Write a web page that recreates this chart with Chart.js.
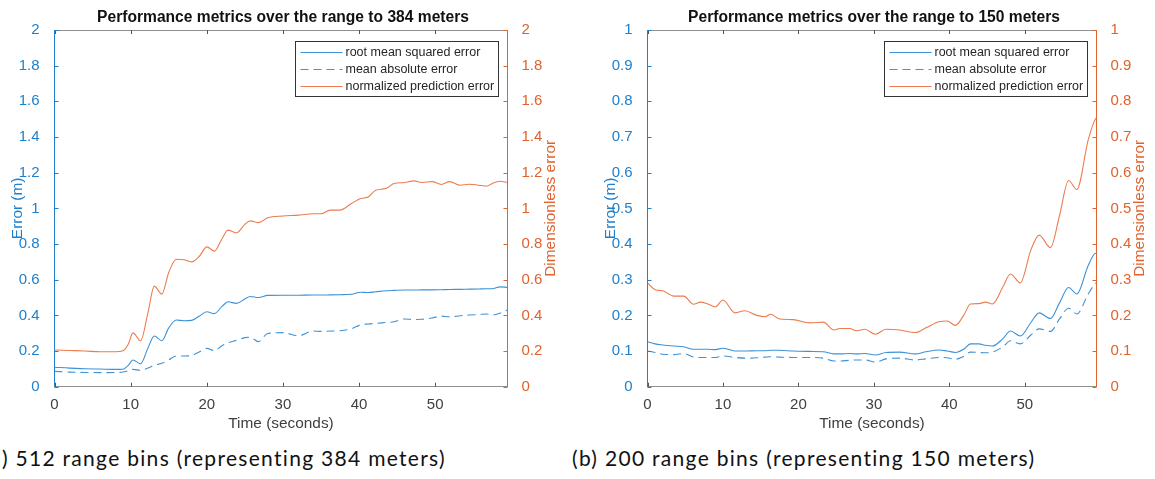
<!DOCTYPE html>
<html>
<head>
<meta charset="utf-8">
<script src="https://cdn.jsdelivr.net/npm/chart.js@4.4.1/dist/chart.umd.min.js"></script>
<style>
  html, body { margin: 0; padding: 0; background: #fff; }
  body { width: 1155px; height: 479px; position: relative; overflow: hidden; }
  canvas { position: absolute; top: 0; }
  #chartA { left: 0; }
  #chartB { left: 593px; }
  .caption {
    position: absolute;
    top: 445px;
    font-family: "Lato", "DejaVu Sans", sans-serif;
    font-size: 21px;
    letter-spacing: 1.3px;
    color: #111;
    white-space: nowrap;
  }
</style>
</head>
<body>
<canvas id="chartA" width="566" height="440"></canvas>
<canvas id="chartB" width="562" height="440"></canvas>
<div class="caption" style="left:-16px">(a) 512 range bins (representing 384 meters)</div>
<div class="caption" style="left:572px">(b) 200 range bins (representing 150 meters)</div>
<script>
// (a) 512 range bins, 384 m
const timeA = [0, 2, 4, 6, 8, 9, 9.7, 10.3, 11.3, 12.3, 13.1, 14.1, 15, 16, 17, 18, 19, 20, 21, 22,
  22.8, 23.9, 25, 25.7, 26.8, 28, 30, 32, 34, 35, 36.2, 37.5, 39, 40.2, 41.2, 42.2, 43.5, 44.6,
  46, 47.2, 48.3, 49.6, 50.8, 51.9, 53.3, 54.5, 55.7, 56.8, 57.5, 58.5, 59.5];
const rmseA = [0.109, 0.104, 0.101, 0.099, 0.097, 0.098, 0.12, 0.15, 0.128, 0.22, 0.284, 0.258, 0.33,
  0.374, 0.37, 0.372, 0.395, 0.42, 0.41, 0.45, 0.476, 0.467, 0.492, 0.506, 0.5, 0.512, 0.513, 0.513,
  0.514, 0.514, 0.515, 0.516, 0.518, 0.53, 0.528, 0.532, 0.538, 0.54, 0.542, 0.542, 0.543, 0.543,
  0.544, 0.545, 0.546, 0.547, 0.548, 0.549, 0.549, 0.56, 0.557];
const maeA = [0.086, 0.082, 0.08, 0.079, 0.08, 0.082, 0.09, 0.097, 0.092, 0.105, 0.12, 0.131, 0.15,
  0.172, 0.172, 0.175, 0.195, 0.215, 0.202, 0.23, 0.247, 0.26, 0.275, 0.277, 0.253, 0.298, 0.303,
  0.286, 0.312, 0.31, 0.312, 0.314, 0.325, 0.347, 0.352, 0.355, 0.36, 0.364, 0.38, 0.377, 0.378,
  0.385, 0.396, 0.392, 0.398, 0.402, 0.405, 0.408, 0.402, 0.412, 0.43];
const npeA = [0.206, 0.203, 0.2, 0.196, 0.196, 0.202, 0.24, 0.302, 0.258, 0.42, 0.564, 0.519, 0.64,
  0.715, 0.712, 0.7, 0.73, 0.784, 0.76, 0.83, 0.878, 0.863, 0.91, 0.93, 0.92, 0.947, 0.957, 0.962,
  0.97, 0.97, 0.99, 0.99, 1.027, 1.055, 1.064, 1.102, 1.111, 1.139, 1.145, 1.154, 1.145, 1.15,
  1.134, 1.15, 1.13, 1.135, 1.13, 1.125, 1.14, 1.152, 1.145];

// (b) 200 range bins, 150 m
const timeB = [0, 1, 2, 3.5, 4.8, 6.1, 7, 8, 9, 10, 11.6, 12.9, 14.5, 15.6, 16.3, 17.5, 19.3, 21.5,
  23.3, 24.7, 25.5, 26.8, 27.7, 28.8, 30.2, 31.6, 33.4, 35.5, 36.9, 38.6, 39.7, 40.8, 41.9, 42.8,
  43.9, 44.8, 45.7, 47.1, 48.1, 49.4, 50.8, 51.9, 53.4, 54.6, 55.8, 56.9, 58.4, 59.4, 59.8];
const rmseB = [0.126, 0.12, 0.117, 0.114, 0.112, 0.105, 0.105, 0.105, 0.104, 0.108, 0.1, 0.1, 0.101,
  0.101, 0.102, 0.102, 0.1, 0.099, 0.098, 0.092, 0.092, 0.093, 0.092, 0.093, 0.089, 0.096, 0.097,
  0.092, 0.098, 0.103, 0.1, 0.096, 0.105, 0.12, 0.12, 0.116, 0.114, 0.135, 0.156, 0.142, 0.18,
  0.207, 0.191, 0.235, 0.278, 0.26, 0.34, 0.374, 0.37];
const maeB = [0.1, 0.096, 0.091, 0.09, 0.093, 0.083, 0.082, 0.082, 0.082, 0.086, 0.082, 0.08, 0.081,
  0.083, 0.084, 0.083, 0.082, 0.082, 0.08, 0.072, 0.072, 0.074, 0.075, 0.075, 0.069, 0.078, 0.08,
  0.075, 0.078, 0.082, 0.081, 0.077, 0.085, 0.097, 0.096, 0.095, 0.097, 0.112, 0.129, 0.12, 0.145,
  0.162, 0.155, 0.19, 0.22, 0.204, 0.26, 0.29, 0.294];
const npeB = [0.291, 0.272, 0.269, 0.254, 0.254, 0.231, 0.237, 0.232, 0.224, 0.243, 0.207, 0.213,
  0.2, 0.196, 0.203, 0.19, 0.188, 0.179, 0.181, 0.159, 0.163, 0.163, 0.157, 0.161, 0.147, 0.161,
  0.159, 0.152, 0.165, 0.182, 0.184, 0.172, 0.2, 0.232, 0.233, 0.237, 0.232, 0.28, 0.316, 0.291,
  0.383, 0.425, 0.39, 0.48, 0.578, 0.553, 0.692, 0.752, 0.756];

const xTicksMax = 59.5;
const seriesLabels = ["root mean squared error", "mean absolute error", "normalized prediction error"];

const BLUE = "#1f80cc";
const BLUE_LINE = "#3d92d8";
const ORANGE = "#e0622c";
const ORANGE_LINE = "#ec7c4e";
const GRAY = "#8f8f8f";
const TEXT = "#404040";
const FONT = "'Liberation Sans', Arial, Helvetica, sans-serif";

function pts(xs, ys) {
  return xs.map((x, i) => ({ x, y: ys[i] }));
}

function fmt(v) {
  return String(+v.toFixed(2));
}

// MATLAB-like box: inward ticks, gray top edge, boxed legend, right label reading upwards
const matlabBox = {
  id: "matlabBox",
  afterDatasetsDraw(chart) {
    const { ctx, chartArea: a, scales } = chart;
    const tl = 4;
    ctx.save();
    ctx.lineWidth = 1;

    ctx.strokeStyle = GRAY;
    ctx.beginPath();
    ctx.moveTo(a.left, a.top + 0.5);
    ctx.lineTo(a.right, a.top + 0.5);
    ctx.stroke();

    ctx.strokeStyle = "#555";
    ctx.beginPath();
    scales.x.ticks.forEach((t) => {
      const px = Math.round(scales.x.getPixelForValue(t.value)) + 0.5;
      ctx.moveTo(px, a.bottom);
      ctx.lineTo(px, a.bottom - tl);
      ctx.moveTo(px, a.top);
      ctx.lineTo(px, a.top + tl);
    });
    ctx.stroke();

    ctx.strokeStyle = BLUE;
    ctx.beginPath();
    scales.y.ticks.forEach((t) => {
      const py = Math.round(scales.y.getPixelForValue(t.value)) + 0.5;
      ctx.moveTo(a.left, py);
      ctx.lineTo(a.left + tl, py);
    });
    ctx.stroke();

    ctx.strokeStyle = ORANGE;
    ctx.beginPath();
    scales.y1.ticks.forEach((t) => {
      const py = Math.round(scales.y1.getPixelForValue(t.value)) + 0.5;
      ctx.moveTo(a.right, py);
      ctx.lineTo(a.right - tl, py);
    });
    ctx.stroke();

    // legend
    const w = 203, h = 55;
    const x0 = Math.round(a.right - 9.5 - w) + 0.5;
    const y0 = Math.round(a.top + 11) + 0.5;
    ctx.fillStyle = "#fff";
    ctx.fillRect(x0, y0, w, h);
    ctx.strokeStyle = "#333";
    ctx.setLineDash([]);
    ctx.strokeRect(x0, y0, w, h);
    ctx.font = "12.5px " + FONT;
    ctx.textBaseline = "middle";
    chart.data.datasets.forEach((ds, i) => {
      const y = y0 + 11 + i * 17;
      ctx.strokeStyle = ds.borderColor;
      ctx.lineWidth = ds.borderWidth;
      ctx.setLineDash(ds.borderDash || []);
      ctx.beginPath();
      ctx.moveTo(x0 + 5, y);
      ctx.lineTo(x0 + 47, y);
      ctx.stroke();
      ctx.fillStyle = "#262626";
      ctx.fillText(ds.label, x0 + 50, y);
    });
    ctx.setLineDash([]);

    // right axis label
    ctx.translate(a.right + 43, (a.top + a.bottom) / 2);
    ctx.rotate(-Math.PI / 2);
    ctx.textAlign = "center";
    ctx.textBaseline = "middle";
    ctx.fillStyle = ORANGE;
    ctx.font = "15.4px " + FONT;
    ctx.fillText("Dimensionless error", 0, 0);
    ctx.restore();
  },
};

function makeChart(id, title, time, rmse, mae, npe, yMax, yStep) {
  return new Chart(document.getElementById(id), {
    type: "line",
    data: {
      datasets: [
        { label: seriesLabels[0], data: pts(time, rmse), yAxisID: "y", borderColor: BLUE_LINE, borderWidth: 1.1 },
        { label: seriesLabels[1], data: pts(time, mae), yAxisID: "y", borderColor: BLUE_LINE, borderWidth: 1.1, borderDash: [8, 5] },
        { label: seriesLabels[2], data: pts(time, npe), yAxisID: "y1", borderColor: ORANGE_LINE, borderWidth: 1.1 },
      ],
    },
    options: {
      responsive: false,
      animation: false,
      layout: { padding: 0 },
      elements: {
        point: { radius: 0 },
        line: { cubicInterpolationMode: "monotone", fill: false },
      },
      plugins: {
        legend: { display: false },
        tooltip: { enabled: false },
        title: {
          display: true,
          text: title,
          color: "#111",
          font: { family: FONT, size: 15.6, weight: "bold" },
          padding: { top: 8.5, bottom: 2.8 },
        },
      },
      scales: {
        x: {
          type: "linear",
          min: 0,
          max: xTicksMax,
          grid: { display: false },
          border: { display: true, color: GRAY },
          ticks: { stepSize: 10, includeBounds: false, color: TEXT, padding: 1, maxRotation: 0, font: { family: FONT, size: 15 } },
          title: { display: true, text: "Time (seconds)", color: TEXT, font: { family: FONT, size: 15.4 }, padding: { top: 0, bottom: 7 } },
          afterFit: (s) => { s.height = 53.3; },
        },
        y: {
          position: "left",
          min: 0,
          max: yMax,
          grid: { display: false },
          border: { display: true, color: BLUE },
          ticks: { stepSize: yStep, color: BLUE, padding: 7, callback: fmt, font: { family: FONT, size: 15 } },
          title: { display: true, text: "Error (m)", color: BLUE, font: { family: FONT, size: 15.4 }, padding: { top: 8.3, bottom: 0 } },
          afterFit: (s) => { s.width = 54.5; },
        },
        y1: {
          position: "right",
          min: 0,
          max: yMax,
          grid: { display: false },
          border: { display: true, color: ORANGE },
          ticks: { stepSize: yStep, color: ORANGE, padding: 6, callback: fmt, font: { family: FONT, size: 15 } },
          afterFit: (s) => { s.width = 58.5; },
        },
      },
    },
    plugins: [matlabBox],
  });
}

makeChart("chartA", "Performance metrics over the range to 384 meters", timeA, rmseA, maeA, npeA, 2, 0.2);
makeChart("chartB", "Performance metrics over the range to 150 meters", timeB, rmseB, maeB, npeB, 1, 0.1);
</script>
</body>
</html>
